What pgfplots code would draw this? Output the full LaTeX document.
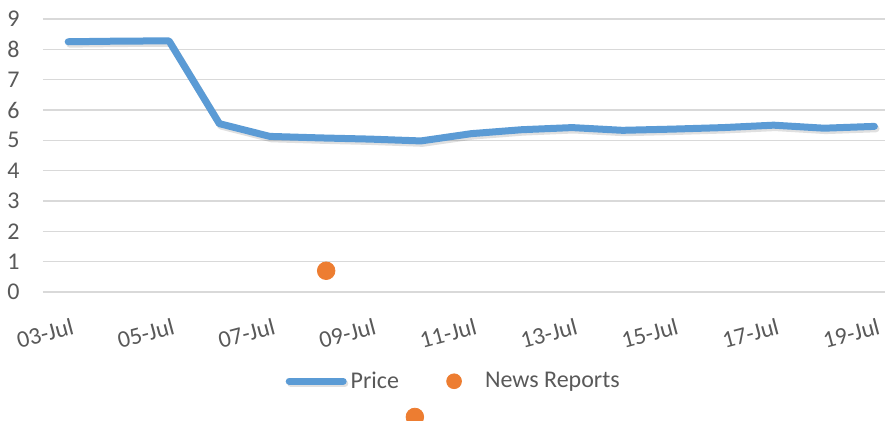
\documentclass[border=0pt]{standalone}
\usepackage{fontspec}
\setmainfont{Carlito}
\usepackage{pgfplots}
\pgfplotsset{compat=1.18}

\definecolor{pricecol}{HTML}{5B9BD5}
\definecolor{newscol}{HTML}{ED7D31}
\definecolor{gridcol}{HTML}{D9D9D9}
\definecolor{txtcol}{HTML}{595959}

\pgfplotsset{
  linelegend/.style={legend image code/.code={
    \draw[##1, line cap=round] (0pt,0pt) -- (27pt,0pt);}},
  dotlegend/.style={legend image code/.code={
    \path[draw=none, fill=none] (0pt,0pt) -- (27pt,0pt);
    \draw[##1, mark size=3.7pt] plot coordinates {(13.5pt,0pt)};}},
}

\begin{document}
\begin{tikzpicture}[font=\fontsize{12}{14}\selectfont]
% the reference is cropped on the right and at the bottom
\clip (-21.5pt,-64.5pt) rectangle (421pt,146pt);
\begin{axis}[
  at={(0,0)}, anchor=south west,
  width=421pt, height=136.5pt, scale only axis,
  xmin=2.5, xmax=19.21, ymin=0, ymax=9,
  clip=false,
  axis line style={draw=none},
  tick style={draw=none},
  ymajorgrids, grid style={gridcol, line width=0.75pt},
  ytick={0,1,...,9},
  xtick={3,5,...,19},
  xticklabels={03-Jul,05-Jul,07-Jul,09-Jul,11-Jul,13-Jul,15-Jul,17-Jul,19-Jul},
  ticklabel style={text=txtcol, font=\fontsize{12}{14}\selectfont},
  xticklabel style={rotate=15, anchor=north east, inner sep=0pt, yshift=-12.5pt, xshift=-2pt},
  yticklabel style={anchor=east, inner sep=0pt, xshift=-11.5pt},
  /pgf/number format/assume math mode=true,
  legend style={draw=none, fill=none, at={(0.489,-0.327)}, anchor=center,
    text=txtcol, font=\fontsize{12}{14}\selectfont,
    /tikz/every even column/.append style={column sep=12pt}},
  legend columns=2,
]

\addplot[pricecol, line width=3.5pt, line join=round, line cap=round, linelegend,
  preaction={draw=black, opacity=0.12, line width=3.5pt,
    transform canvas={shift={(0.8pt,-1.2pt)}}}]
  coordinates {
    (3,8.25) (4,8.27) (5,8.28) (6,5.55) (7,5.13) (8,5.08) (9,5.04)
    (10,4.98) (11,5.22) (12,5.35) (13,5.42) (14,5.33) (15,5.37)
    (16,5.42) (17,5.50) (18,5.40) (19,5.46)
  };
\addlegendentry{Price}

\addplot[only marks, mark=*, mark size=4.4pt, newscol, dotlegend,
  mark options={fill=newscol, draw=newscol}]
  coordinates {(8.12,0.70) (9.88,-4.12)};
\addlegendentry{News Reports}

\end{axis}
\end{tikzpicture}
\end{document}
